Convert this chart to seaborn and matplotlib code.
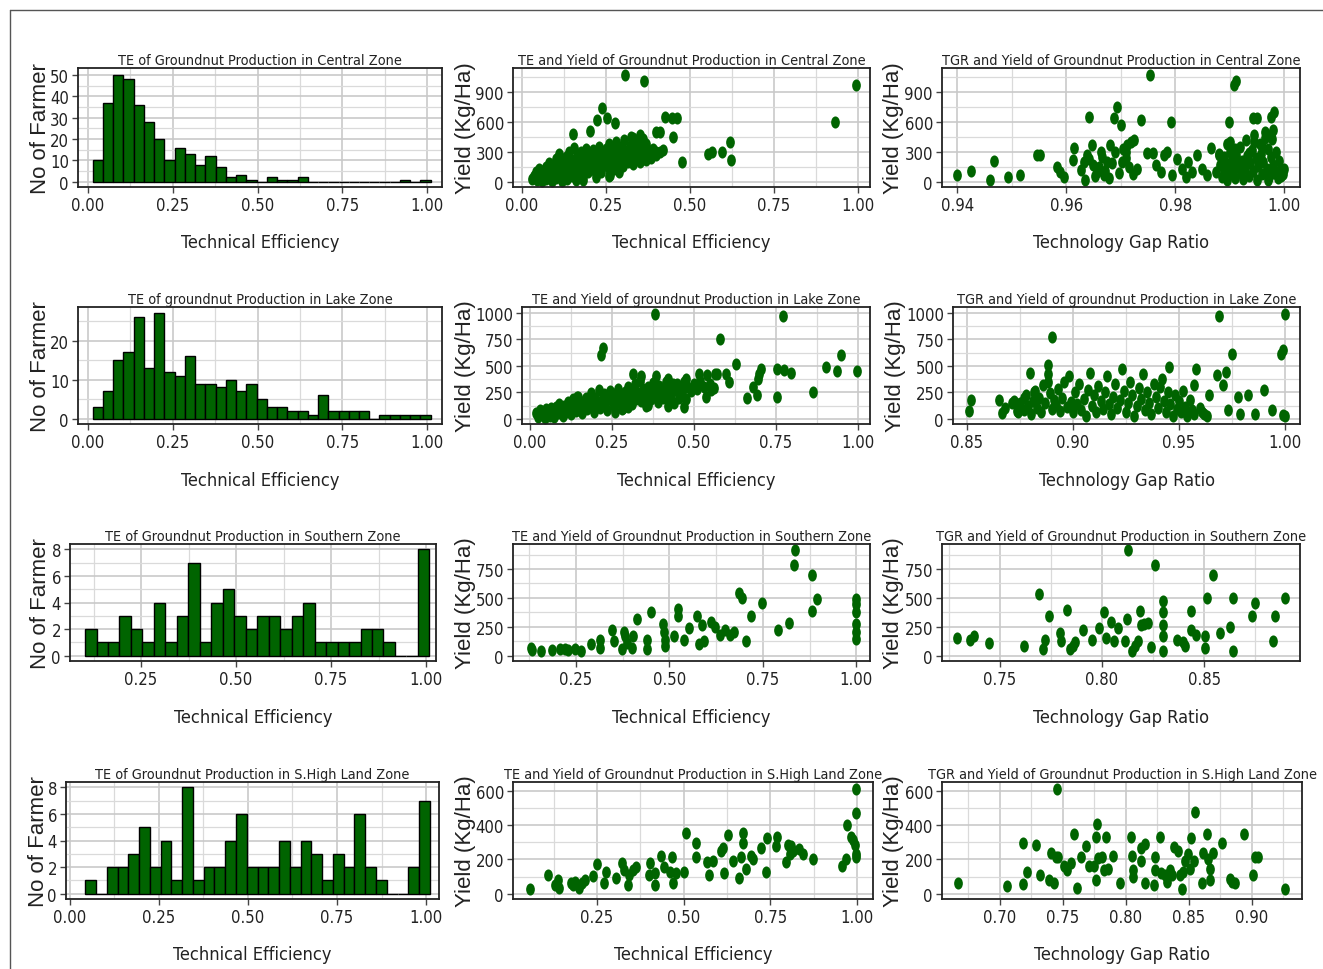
import os
import numpy as np
import pandas as pd
import matplotlib
matplotlib.use("Agg")
import matplotlib.pyplot as plt
import seaborn as sns
from matplotlib import font_manager
from matplotlib.font_manager import FontProperties
from matplotlib.ticker import MultipleLocator, FormatStrFormatter
from matplotlib.path import Path
from matplotlib.transforms import Affine2D
from matplotlib.lines import Line2D

# ---------------- data ----------------
BINW = 0.0302
central_bin_start = 0.014
central_counts = [10, 37, 50, 48, 36, 28, 20, 10, 16, 13, 8, 12, 7, 2, 3, 1, 0, 2, 1, 1, 2,
                  0, 0, 0, 0, 0, 0, 0, 0, 0, 1, 0, 1]
lake_bin_start = 0.014
lake_counts = [3, 7, 15, 17, 26, 13, 27, 12, 11, 16, 9, 9, 8, 10, 7, 9, 5, 3, 3, 2, 2, 1, 6,
               2, 2, 2, 2, 0, 1, 1, 1, 1, 1]
southern_bin_start = 0.1026
southern_counts = [2, 1, 1, 3, 2, 1, 4, 1, 3, 7, 1, 4, 5, 3, 2, 3, 3, 2, 3, 4, 1, 1, 1, 1, 2,
                   2, 1, 0, 0, 8]
shl_bin_start = 0.0439
shl_counts = [1, 0, 2, 2, 3, 5, 2, 4, 1, 8, 1, 2, 2, 4, 6, 2, 2, 2, 4, 2, 4, 3, 1, 3, 2, 6, 2,
              1, 0, 0, 2, 7]

central_te_points = [
    (0.307, 1075), (0.363, 1007), (0.995, 967), (0.933, 604), (0.619, 403), (0.621, 218),
    (0.594, 302), (0.565, 302), (0.555, 285), (0.475, 201), (0.45, 453), (0.426, 655),
    (0.446, 638), (0.46, 638), (0.40, 497), (0.41, 497), (0.238, 745), (0.223, 621),
    (0.252, 638), (0.277, 588), (0.203, 510), (0.151, 477), (0.262, 74), (0.33, 440),
    (0.35, 470), (0.40, 300), (0.36, 340),
    (0.03, 30), (0.035, 60), (0.04, 100), (0.045, 20), (0.05, 80), (0.05, 130), (0.055, 40),
    (0.06, 10), (0.06, 110), (0.065, 70), (0.07, 150), (0.07, 30), (0.075, 90), (0.08, 190),
    (0.08, 50), (0.085, 120), (0.09, 10), (0.09, 160), (0.095, 80), (0.10, 230), (0.10, 40),
    (0.105, 130), (0.11, 280), (0.11, 100), (0.115, 60), (0.12, 200), (0.12, 10), (0.125, 150),
    (0.13, 250), (0.13, 90), (0.135, 30), (0.14, 180), (0.14, 300), (0.145, 120), (0.15, 60),
    (0.15, 220), (0.155, 340), (0.16, 150), (0.16, 20), (0.165, 260), (0.17, 100), (0.17, 200),
    (0.175, 300), (0.18, 140), (0.18, 60), (0.185, 240), (0.19, 330), (0.19, 180), (0.195, 100),
    (0.20, 280), (0.20, 210), (0.205, 150), (0.21, 320), (0.21, 250), (0.215, 120), (0.22, 200),
    (0.22, 290), (0.225, 170), (0.23, 350), (0.23, 240), (0.235, 100), (0.24, 300), (0.24, 190),
    (0.245, 260), (0.25, 220), (0.25, 330), (0.255, 150), (0.26, 280), (0.26, 380), (0.265, 200),
    (0.27, 240), (0.27, 320), (0.275, 130), (0.28, 260), (0.28, 400), (0.285, 190), (0.29, 300),
    (0.29, 230), (0.295, 350), (0.30, 270), (0.30, 160), (0.305, 420), (0.31, 240), (0.31, 310),
    (0.315, 200), (0.32, 280), (0.32, 360), (0.325, 450), (0.33, 250), (0.33, 180), (0.335, 320),
    (0.34, 230), (0.34, 400), (0.345, 290), (0.35, 200), (0.355, 350), (0.36, 260),
    (0.36, 430), (0.365, 300), (0.37, 220), (0.37, 380), (0.375, 280), (0.38, 310), (0.385, 240),
    (0.39, 330), (0.395, 290), (0.40, 270), (0.41, 300), (0.42, 320), (0.29, 100), (0.26, 60),
    (0.22, 50), (0.18, 20),
]

central_tgr_points = [
    (0.940, 74), (0.9426, 107), (0.946, 17), (0.9468, 215), (0.9494, 50), (0.9515, 74),
    (0.9547, 275), (0.9552, 269), (0.9583, 151), (0.9589, 100), (0.9595, 50), (0.9612, 218),
    (0.9615, 336), (0.9635, 17), (0.9641, 655), (0.9632, 201), (0.9638, 269), (0.9647, 369),
    (0.965, 168), (0.9656, 101), (0.9663, 302), (0.9669, 67), (0.9675, 201), (0.9681, 369),
    (0.9687, 638), (0.9693, 755), (0.9701, 571), (0.9702, 201), (0.9709, 302), (0.9712, 369),
    (0.9718, 403), (0.9724, 420), (0.973, 134), (0.9737, 621), (0.9748, 295), (0.9753, 1075),
    (0.976, 295), (0.9764, 168), (0.9773, 101), (0.9779, 269), (0.9785, 302), (0.9793, 604),
    (0.9794, 67), (0.9804, 235), (0.9813, 134), (0.9819, 50), (0.9823, 201), (0.9831, 101),
    (0.984, 269), (0.985, 134), (0.9859, 67), (0.9865, 336), (0.9874, 101), (0.988, 269),
    (0.9883, 168), (0.9899, 604), (0.990, 403), (0.9908, 974), (0.9911, 1014), (0.9942, 638),
    (0.9951, 638), (0.9975, 655), (0.9982, 705), (1.000, 134), (0.9997, 84),
    (0.9628, 120), (0.9642, 230), (0.9652, 60), (0.966, 150), (0.9666, 250), (0.9672, 110),
    (0.9678, 40), (0.9684, 190), (0.969, 300), (0.9696, 90), (0.9705, 330), (0.971, 240),
    (0.9715, 150), (0.9722, 80),
    (0.9885, 50), (0.9888, 150), (0.989, 250), (0.9892, 100), (0.9895, 20), (0.9898, 180),
    (0.990, 300), (0.9902, 80), (0.9905, 220), (0.9908, 130), (0.991, 40), (0.9912, 270),
    (0.9915, 170), (0.9918, 350), (0.992, 90), (0.9922, 210), (0.9925, 30), (0.9928, 140),
    (0.993, 420), (0.9932, 260), (0.9935, 60), (0.9938, 190), (0.994, 320), (0.9942, 110),
    (0.9945, 470), (0.9948, 240), (0.995, 20), (0.9952, 160), (0.9955, 380), (0.9958, 280),
    (0.996, 80), (0.9962, 200), (0.9965, 500), (0.9968, 130), (0.997, 330), (0.9972, 50),
    (0.9975, 250), (0.9978, 430), (0.998, 170), (0.9982, 90), (0.9985, 300), (0.9988, 40),
    (0.999, 210), (0.9992, 120), (0.9995, 60), (0.998, 520), (0.9975, 470), (0.9965, 440),
    (0.9945, 400), (0.9925, 180), (0.991, 330), (0.9895, 380), (0.988, 280), (0.996, 350),
    (0.9935, 290), (0.997, 20),
]

lake_te_points = [
    (0.383, 991), (0.772, 975), (0.581, 755), (0.217, 607), (0.224, 669), (0.629, 515),
    (0.563, 423), (0.598, 423), (0.608, 347), (0.538, 209), (0.553, 270), (0.662, 193),
    (0.68, 300), (0.693, 224), (0.695, 377), (0.70, 423), (0.706, 469), (0.752, 469),
    (0.752, 209), (0.775, 460), (0.797, 429), (0.864, 255), (0.904, 485), (0.935, 448),
    (0.948, 607), (0.996, 448), (0.314, 423), (0.339, 408), (0.385, 408), (0.42, 377),
    (0.435, 331), (0.476, 377), (0.50, 330), (0.517, 423), (0.146, 209),
    (0.02, 50), (0.025, 20), (0.03, 80), (0.04, 40), (0.045, 10), (0.05, 90), (0.055, 60),
    (0.06, 30), (0.065, 100), (0.07, 70), (0.075, 20), (0.08, 110), (0.085, 50), (0.09, 140),
    (0.095, 80), (0.10, 30), (0.105, 120), (0.11, 60), (0.115, 160), (0.12, 100), (0.125, 40),
    (0.13, 190), (0.135, 130), (0.14, 70), (0.145, 210), (0.15, 110), (0.155, 160), (0.16, 50),
    (0.165, 130), (0.17, 200), (0.175, 90), (0.18, 170), (0.185, 240), (0.19, 120), (0.195, 60),
    (0.20, 200), (0.205, 150), (0.21, 270), (0.215, 100), (0.22, 180), (0.225, 230), (0.23, 140),
    (0.235, 80), (0.24, 210), (0.245, 260), (0.25, 170), (0.255, 120), (0.26, 230), (0.265, 190),
    (0.27, 280), (0.275, 150), (0.28, 220), (0.285, 100), (0.29, 250), (0.295, 180), (0.30, 300),
    (0.305, 210), (0.31, 140), (0.315, 260), (0.32, 330), (0.325, 190), (0.33, 240), (0.335, 360),
    (0.34, 170), (0.345, 280), (0.35, 220), (0.355, 120), (0.36, 300), (0.365, 250), (0.37, 190),
    (0.375, 340), (0.38, 230), (0.385, 280), (0.39, 160), (0.395, 310), (0.40, 240), (0.405, 200),
    (0.41, 290), (0.415, 350), (0.42, 180), (0.425, 260), (0.43, 220), (0.435, 310), (0.44, 150),
    (0.445, 270), (0.45, 330), (0.455, 200), (0.46, 290), (0.465, 240), (0.47, 350), (0.475, 190),
    (0.48, 300), (0.49, 260), (0.50, 320), (0.51, 280), (0.52, 360), (0.53, 300), (0.54, 410),
    (0.55, 330), (0.56, 290), (0.57, 420), (0.26, 60), (0.30, 110), (0.28, 90), (0.36, 130),
    (0.42, 120), (0.47, 110), (0.05, 40), (0.035, 70),
]

lake_tgr_points = [
    (0.8508, 69), (0.8519, 178), (0.865, 178), (0.8666, 53), (0.8713, 147), (0.8737, 69),
    (0.8768, 194), (0.8797, 428), (0.8815, 256), (0.8882, 506), (0.8899, 772), (0.888, 350),
    (0.9454, 490), (0.958, 475), (0.957, 319), (0.964, 225), (0.9688, 975), (0.968, 412),
    (0.971, 319), (0.972, 444), (0.975, 616), (0.973, 80), (0.978, 210), (0.979, 40),
    (0.9825, 225), (0.986, 40), (0.990, 272), (0.994, 80), (0.998, 616), (0.999, 647),
    (1.000, 991), (0.999, 37), (1.000, 30), (0.868, 100), (0.872, 170), (0.874, 60),
    (0.875, 150), (0.877, 80), (0.878, 220), (0.879, 120), (0.880, 40), (0.881, 170),
    (0.882, 260), (0.883, 100), (0.884, 200), (0.885, 60), (0.886, 320), (0.887, 150),
    (0.888, 420), (0.889, 240), (0.890, 90), (0.891, 180), (0.892, 130), (0.893, 280),
    (0.894, 70), (0.895, 200), (0.896, 350), (0.897, 110), (0.898, 400), (0.899, 160),
    (0.900, 60), (0.901, 250), (0.902, 140), (0.903, 330), (0.904, 80), (0.905, 190),
    (0.906, 30), (0.907, 270), (0.908, 430), (0.909, 120), (0.910, 220), (0.911, 60),
    (0.912, 310), (0.913, 170), (0.914, 90), (0.915, 250), (0.916, 400), (0.917, 140),
    (0.918, 40), (0.919, 210), (0.920, 330), (0.921, 100), (0.922, 180), (0.923, 470),
    (0.924, 260), (0.925, 60), (0.926, 150), (0.927, 350), (0.928, 220), (0.929, 30),
    (0.930, 120), (0.931, 290), (0.932, 190), (0.933, 420), (0.934, 80), (0.935, 250),
    (0.936, 150), (0.937, 40), (0.938, 330), (0.939, 210), (0.940, 100), (0.941, 300),
    (0.942, 380), (0.943, 170), (0.944, 60), (0.945, 250), (0.946, 140), (0.947, 30),
    (0.948, 220), (0.949, 90), (0.950, 170), (0.951, 60), (0.952, 260), (0.953, 110),
    (0.954, 30), (0.955, 180), (0.956, 80), (0.957, 40), (0.960, 100), (0.962, 40),
    (0.963, 30), (0.961, 60),
]

southern_te_points = [
    (0.13, 69), (0.132, 50), (0.157, 42), (0.185, 50), (0.207, 56), (0.221, 55), (0.228, 50),
    (0.247, 56), (0.262, 42), (0.29, 97), (0.314, 139), (0.314, 69), (0.347, 222), (0.351, 125),
    (0.372, 56), (0.378, 208), (0.381, 167), (0.385, 111), (0.399, 69), (0.403, 167),
    (0.414, 319), (0.439, 139), (0.441, 61), (0.45, 375), (0.483, 278), (0.485, 208),
    (0.487, 139), (0.488, 83), (0.512, 172), (0.523, 403), (0.524, 347), (0.539, 139),
    (0.551, 236), (0.574, 347), (0.579, 97), (0.588, 264), (0.592, 125), (0.612, 292),
    (0.621, 250), (0.634, 181), (0.648, 222), (0.661, 181), (0.672, 208), (0.686, 542),
    (0.695, 500), (0.704, 130), (0.717, 347), (0.748, 458), (0.79, 222), (0.821, 283),
    (0.837, 917), (0.834, 783), (0.883, 694), (0.883, 389), (0.894, 492), (1.0, 492),
    (1.0, 444), (1.0, 375), (1.0, 278), (1.0, 208), (1.0, 144),
]

southern_tgr_points = [
    (0.729, 153), (0.7355, 139), (0.7372, 172), (0.7447, 106), (0.762, 83), (0.7689, 533),
    (0.771, 56), (0.772, 133), (0.7742, 347), (0.7796, 200), (0.780, 125), (0.783, 394),
    (0.7845, 56), (0.786, 83), (0.787, 117), (0.7908, 222), (0.795, 133), (0.7985, 236),
    (0.801, 381), (0.802, 153), (0.8043, 292), (0.806, 125), (0.8076, 236), (0.8112, 125),
    (0.812, 319), (0.8128, 911), (0.8145, 42), (0.816, 83), (0.8174, 125), (0.8188, 389),
    (0.819, 264), (0.8207, 278), (0.8224, 283), (0.824, 78), (0.826, 783), (0.8298, 472),
    (0.8298, 375), (0.8298, 264), (0.8298, 167), (0.8298, 42), (0.8367, 139), (0.8396, 117),
    (0.8405, 83), (0.8438, 389), (0.8434, 222), (0.8462, 181), (0.8503, 172), (0.8507, 69),
    (0.8516, 500), (0.8544, 694), (0.8577, 194), (0.8627, 250), (0.8643, 500), (0.8643, 42),
    (0.8734, 347), (0.875, 458), (0.884, 125), (0.8849, 347), (0.8898, 500),
]

shl_te_points = [
    (0.058, 28), (0.109, 108), (0.128, 52), (0.137, 80), (0.142, 34), (0.176, 65), (0.181, 52),
    (0.188, 71), (0.198, 34), (0.208, 65), (0.217, 77), (0.238, 103), (0.25, 174), (0.269, 65),
    (0.277, 127), (0.306, 90), (0.323, 178), (0.329, 136), (0.339, 52), (0.342, 108),
    (0.354, 136), (0.362, 155), (0.402, 178), (0.40, 108), (0.416, 118), (0.416, 52),
    (0.436, 221), (0.443, 155), (0.467, 211), (0.461, 127), (0.468, 62), (0.478, 118),
    (0.50, 127), (0.508, 351), (0.537, 295), (0.537, 211), (0.566, 183), (0.573, 108),
    (0.585, 193), (0.607, 249), (0.613, 267), (0.615, 118), (0.628, 342), (0.641, 193),
    (0.66, 90), (0.666, 211), (0.671, 351), (0.671, 295), (0.68, 146), (0.695, 221),
    (0.70, 202), (0.724, 267), (0.737, 127), (0.741, 323), (0.769, 333), (0.765, 277),
    (0.794, 183), (0.80, 286), (0.806, 230), (0.81, 277), (0.815, 249), (0.834, 258),
    (0.844, 230), (0.873, 202), (0.958, 164), (0.969, 202), (0.972, 398), (0.984, 333),
    (0.987, 314), (0.993, 286), (0.996, 230), (0.998, 215), (0.996, 473), (0.998, 613),
]

shl_tgr_points = [
    (0.6665, 65), (0.7059, 43), (0.7186, 58), (0.7186, 295), (0.7218, 127), (0.7285, 282),
    (0.7319, 108), (0.739, 80), (0.7404, 239), (0.743, 62), (0.745, 613), (0.7444, 211),
    (0.7457, 211), (0.751, 164), (0.753, 136), (0.756, 178), (0.759, 346), (0.761, 34),
    (0.7644, 211), (0.7684, 277), (0.771, 164), (0.775, 164), (0.7763, 80), (0.7771, 407),
    (0.7777, 208), (0.7763, 333), (0.781, 211), (0.7824, 136), (0.7843, 333), (0.7856, 146),
    (0.7896, 221), (0.795, 65), (0.8037, 333), (0.8048, 221), (0.8056, 136), (0.8056, 95),
    (0.8117, 264), (0.8122, 193), (0.8154, 290), (0.8149, 65), (0.823, 211), (0.8234, 136),
    (0.8223, 52), (0.8269, 333), (0.8277, 118), (0.831, 108), (0.8322, 71), (0.8348, 136),
    (0.8367, 108), (0.8383, 271), (0.841, 249), (0.8428, 108), (0.8441, 28), (0.8455, 127),
    (0.8468, 193), (0.8495, 230), (0.8508, 146), (0.8513, 323), (0.8548, 479), (0.8543, 193),
    (0.8606, 62), (0.8614, 239), (0.8641, 346), (0.8654, 202), (0.8668, 146), (0.8668, 77),
    (0.8694, 239), (0.876, 295), (0.8827, 84), (0.884, 71), (0.8867, 65), (0.8934, 346),
    (0.9008, 108), (0.9027, 211), (0.9048, 211), (0.9266, 28),
]

hist_titles = ["TE of Groundnut Production in Central Zone",
               "TE of groundnut Production in Lake Zone",
               "TE of Groundnut Production in Southern Zone",
               "TE of Groundnut Production in S.High Land Zone"]
te_titles = ["TE and Yield of Groundnut Production in Central Zone",
             "TE and Yield of groundnut Production in Lake Zone",
             "TE and Yield of Groundnut Production in Southern Zone",
             "TE and Yield of Groundnut Production in S.High Land Zone"]
tgr_titles = ["TGR and Yield of Groundnut Production in Central Zone",
              "TGR and Yield of groundnut Production in Lake Zone",
              "TGR and Yield of Groundnut Production in Southern Zone",
              "TGR and Yield of Groundnut Production in S.High Land Zone"]

# ---------------- fonts ----------------
sns.set_theme(style="white")


def find_font(pred):
    for f in font_manager.fontManager.ttflist:
        if pred(os.path.basename(f.fname).lower()):
            return f.fname
    return None


narrow_file = (find_font(lambda b: b.startswith("liberationsansnarrow-regular"))
               or find_font(lambda b: b.startswith("arialn."))
               or find_font(lambda b: b.startswith("notosans-extracondensed.")
                            or b.startswith("notosans-condensed."))
               or find_font(lambda b: b.startswith("dejavusanscondensed.")))
if narrow_file:
    FP_N = FontProperties(fname=narrow_file)
else:
    FP_N = FontProperties(family="DejaVu Sans", stretch="condensed")
FP_R = FontProperties(family=["Liberation Sans", "DejaVu Sans"])
plt.rcParams["font.family"] = ["Liberation Sans", "DejaVu Sans"]

GREEN = "#006400"
W, H = 1323, 970
fig = plt.figure(figsize=(W / 100, H / 100), dpi=100)
fig.patch.set_facecolor("white")
renderer = fig.canvas.get_renderer()


def text_width(s, fp, size):
    t = fig.text(0, 0, s, fontproperties=fp, fontsize=size)
    w = t.get_window_extent(renderer).width
    t.remove()
    return w


def fit_size(s, fp, target_px):
    return 20.0 * target_px / text_width(s, fp, 20.0)


# one size per text role, derived from the reference text widths
title_refs = [(hist_titles[0], 270), (te_titles[0], 330), (tgr_titles[0], 340),
              (hist_titles[3], 300), (te_titles[3], 362), (tgr_titles[3], 372)]
TITLE_SIZE = 1.05 * float(np.median([fit_size(s, FP_N, w) for s, w in title_refs]))
XLAB_SIZE = 1.15 * float(np.mean([fit_size("Technical Efficiency", FP_N, 138),
                                  fit_size("Technology Gap Ratio", FP_N, 153)]))
TICK_SIZE = 1.07 * fit_size("0.00", FP_N, 31)
YLAB_SIZE = min(16.0, fit_size("No of Farmer", FP_R, 148))

# frame lines of the original picture
fig.add_artist(Line2D([10 / W, 1], [1 - 11 / H, 1 - 11 / H], color="#555555", lw=1.0))
fig.add_artist(Line2D([10 / W, 10 / W], [0, 1 - 11 / H], color="#555555", lw=1.0))


def make_ax(l, t, r, b):
    return fig.add_axes([l / W, 1 - b / H, (r - l) / W, (b - t) / H])


ellipse = Path.unit_circle().transformed(Affine2D().scale(0.72, 1.0))


def style_ax(ax, box, xlim, ylim, xmaj, xmin, ymaj, ymin, title, xlabel, ylabel, ylab_px,
             xlab_px):
    l, t, r, b = box
    ax.set_xlim(*xlim)
    ax.set_ylim(*ylim)
    ax.xaxis.set_major_locator(MultipleLocator(xmaj))
    ax.xaxis.set_minor_locator(MultipleLocator(xmin))
    ax.yaxis.set_major_locator(MultipleLocator(ymaj))
    ax.yaxis.set_minor_locator(MultipleLocator(ymin))
    ax.xaxis.set_major_formatter(FormatStrFormatter("%.2f"))
    ax.yaxis.set_major_formatter(FormatStrFormatter("%g"))
    ax.set_axisbelow(True)
    ax.grid(which="major", color="#c9c9c9", lw=1.2)
    ax.grid(which="minor", color="#dadada", lw=0.9)
    for sp in ax.spines.values():
        sp.set_visible(True)
        sp.set_color("#222222")
        sp.set_linewidth(1.3)
    ax.tick_params(which="major", direction="out", length=4, width=1, color="#444444",
                   labelcolor="#222222", pad=2.5, bottom=True, left=True)
    ax.tick_params(which="minor", length=0)
    for lab in ax.get_xticklabels() + ax.get_yticklabels():
        lab.set_fontproperties(FP_N)
        lab.set_fontsize(TICK_SIZE)
    ax.set_title(title, fontproperties=FP_N, fontsize=TITLE_SIZE, pad=3, color="#222222")
    ax.set_xlabel(xlabel, fontproperties=FP_N, fontsize=XLAB_SIZE, color="#222222")
    ax.xaxis.label.set_va("center")
    ax.xaxis.set_label_coords(0.5, -(xlab_px - b) / (b - t))
    ax.set_ylabel(ylabel, fontproperties=FP_R, fontsize=YLAB_SIZE, color="#222222")
    ax.yaxis.label.set_va("center")
    ax.yaxis.set_label_coords((ylab_px - l) / (r - l), 0.5)


def hist_panel(box, counts, start, xlim, ylim, ymaj, ymin, title, ylab_px, xlab_px):
    ax = make_ax(*box)
    n = len(counts)
    centers = start + BINW * (np.arange(n) + 0.5)
    df = pd.DataFrame({"te": centers, "n": counts})
    sns.histplot(data=df, x="te", weights="n", binwidth=BINW,
                 binrange=(start, start + n * BINW), ax=ax, color=GREEN,
                 edgecolor="black", linewidth=1.0, alpha=1.0)
    style_ax(ax, box, xlim, ylim, 0.25, 0.125, ymaj, ymin, title,
             "Technical Efficiency", "No of Farmer", ylab_px, xlab_px)


def scatter_panel(box, points, xlim, ylim, xmaj, xmin, ymaj, ymin, title, xlabel,
                  ylab_px, xlab_px):
    ax = make_ax(*box)
    df = pd.DataFrame(points, columns=["x", "yield"])
    sns.scatterplot(data=df, x="x", y="yield", ax=ax, color=GREEN, s=76,
                    marker=ellipse, linewidth=0, alpha=1.0)
    style_ax(ax, box, xlim, ylim, xmaj, xmin, ymaj, ymin, title, xlabel,
             "Yield (Kg/Ha)", ylab_px, xlab_px)


TE_LAB = "Technical Efficiency"
TGR_LAB = "Technology Gap Ratio"

# row 1 - Central
hist_panel((78, 69, 442, 188), central_counts, central_bin_start,
           (-0.0295, 1.044), (-2.5, 53.3), 10, 5, hist_titles[0], 40, 243)
scatter_panel((513, 69, 870, 188), central_te_points, (-0.027, 1.036), (-50, 1140),
              0.25, 0.125, 300, 150, te_titles[0], TE_LAB, 465, 243)
scatter_panel((942, 69, 1300, 188), central_tgr_points, (0.9372, 1.0029), (-50, 1140),
              0.02, 0.01, 300, 150, tgr_titles[0], TGR_LAB, 893, 243)

# row 2 - Lake
hist_panel((78, 308, 442, 425), lake_counts, lake_bin_start,
           (-0.0295, 1.044), (-1.35, 28.6), 10, 5, hist_titles[1], 40, 481)
scatter_panel((522, 308, 870, 425), lake_te_points, (-0.024, 1.037), (-50, 1057),
              0.25, 0.125, 250, 125, te_titles[1], TE_LAB, 465, 481)
scatter_panel((953, 308, 1300, 425), lake_tgr_points, (0.8434, 1.0071), (-50, 1057),
              0.05, 0.025, 250, 125, tgr_titles[1], TGR_LAB, 895, 481)

# row 3 - Southern
hist_panel((70, 545, 436, 662), southern_counts, southern_bin_start,
           (0.063, 1.026), (-0.4, 8.4), 2, 1, hist_titles[2], 40, 718)
scatter_panel((513, 545, 870, 662), southern_te_points, (0.081, 1.037), (-46, 966),
              0.25, 0.125, 250, 125, te_titles[2], TE_LAB, 465, 718)
scatter_panel((942, 545, 1300, 662), southern_tgr_points, (0.7216, 0.897), (-46, 966),
              0.05, 0.025, 250, 125, tgr_titles[2], TGR_LAB, 893, 718)

# row 4 - S.High Land
hist_panel((66, 783, 439, 900), shl_counts, shl_bin_start,
           (-0.010, 1.036), (-0.4, 8.4), 2, 1, hist_titles[3], 38, 955)
scatter_panel((513, 783, 873, 900), shl_te_points, (0.008, 1.046), (-31, 651),
              0.25, 0.125, 200, 100, te_titles[3], TE_LAB, 465, 955)
scatter_panel((942, 783, 1302, 900), shl_tgr_points, (0.654, 0.9397), (-31, 651),
              0.05, 0.025, 200, 100, tgr_titles[3], TGR_LAB, 893, 955)

fig.savefig("out.png", dpi=100, facecolor="white")
